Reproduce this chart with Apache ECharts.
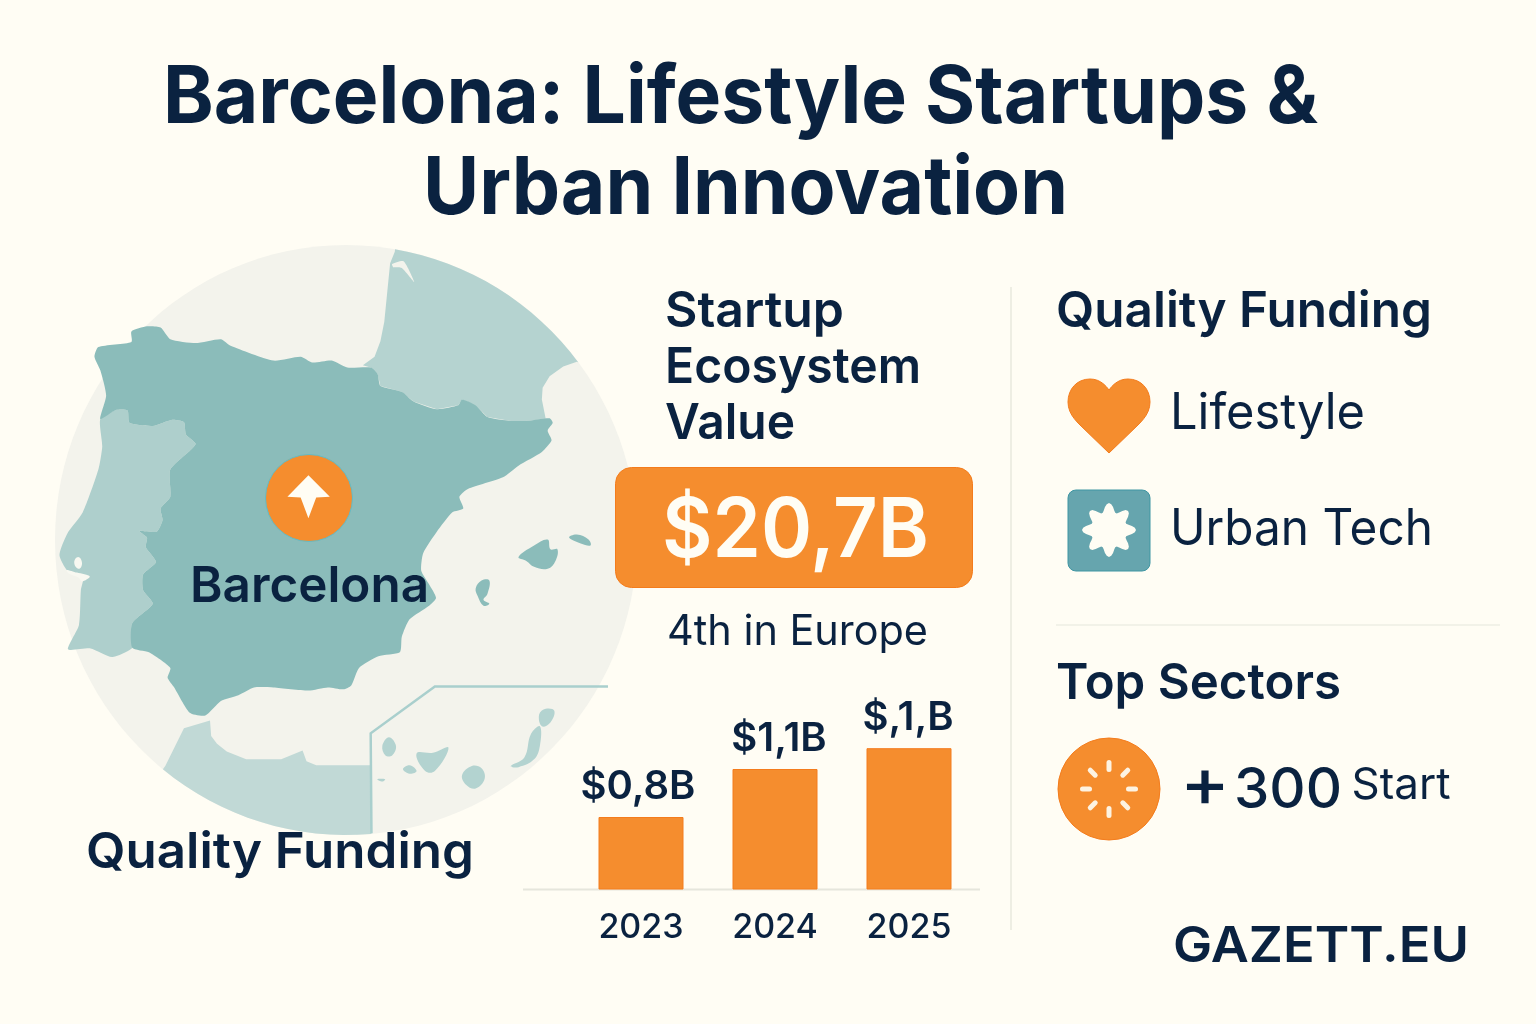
<!DOCTYPE html>
<html>
<head>
<meta charset="utf-8">
<title>Barcelona: Lifestyle Startups & Urban Innovation</title>
<script src="https://cdn.jsdelivr.net/npm/echarts@6/dist/echarts.min.js"></script>
<style>
  html, body { margin: 0; padding: 0; background: #fffdf4; }
  #chart { width: 1536px; height: 1024px; }
</style>
</head>
<body>
<div id="chart"></div>
<script>
// chart values
const years = ['2023', '2024', '2025']
const funding = [0.8, 1.1, 1.23]
const fundingLabels = ['$0,8B', '$1,1B', '$,1,B']
const labelNudge = [-3, 4, -1]

const titleLines = ['Barcelona: Lifestyle Startups &', 'Urban Innovation']
const valueLines = ['Startup', 'Ecosystem', 'Value']

const INK = '#0a2240'
const ORANGE = '#f58d2e'
const ORANGE_EDGE = '#f47c1c'
const FONT = 'Inter, "Noto Sans", sans-serif'

// map outlines (zoom coords, see toPage)
const spainOutline = [140,300,150,275,235,262,235,235,275,222,310,225,335,255,400,265,465,255,490,272,600,310,670,300,700,315,750,310,790,328,850,328,868,345,875,375,930,390,960,415,1020,435,1075,425,1085,410,1120,425,1150,455,1210,465,1250,465,1310,458,1318,470,1305,490,1315,515,1290,545,1230,580,1190,610,1100,640,1078,660,1088,690,1060,700,1020,750,985,805,980,850,1000,885,1018,920,1000,940,950,975,930,1020,925,1060,870,1070,820,1100,800,1145,780,1155,740,1150,690,1158,600,1150,550,1150,510,1170,465,1185,425,1222,385,1215,345,1150,328,1125,335,1100,280,1060,237,1048,237,985,290,935,265,900,265,860,298,828,272,790,275,765,255,748,300,750,315,720,310,690,335,660,335,590,400,525,375,500,370,468,340,462,290,478,230,470,225,438,195,437,155,460,170,400,155,335]
const portugalOutline = [155,460,195,437,225,438,230,470,290,478,340,462,370,468,375,500,400,525,335,590,335,660,310,690,315,720,300,750,255,748,275,765,272,790,298,828,265,860,265,900,290,935,237,985,237,1048,185,1072,130,1050,72,1052,100,990,105,900,110,870,70,850,50,810,70,755,110,700,150,590,160,530]
const franceCoast = [1380,313,1345,325,1310,350,1292,380,1290,410,1300,460,1250,465,1210,465,1150,455,1120,425,1085,410,1075,425,1020,435,960,415,930,390,875,375,868,345,850,328,830,322,860,300,875,260,885,210,893,130,900,60,912,30]
const africaCoast = [852,1525,850,1350,710,1350,685,1340,675,1312,620,1335,530,1335,480,1315,455,1295,440,1275,437,1235,370,1255,322,1352]
const balearics = [
  [1230,815,1270,785,1305,770,1312,795,1330,795,1325,825,1305,845,1270,840,1250,825],
  [1360,765,1380,757,1410,770,1415,785,1390,780],
  [1120,895,1135,875,1155,875,1150,910,1140,925,1155,935,1140,940,1125,915]
]
const canaries = [
  [968,1320,1010,1318,1050,1305,1015,1365,990,1365],
  [1210,1352,1245,1330,1262,1270,1285,1250,1285,1300,1270,1335,1230,1355],
  [1283,1220,1300,1205,1322,1210,1312,1240,1290,1250],
  [1085,1375,1110,1352,1135,1358,1143,1385,1120,1410,1095,1400],
  [880,1300,897,1278,915,1300,905,1325,888,1325],
  [933,1360,950,1350,968,1365,950,1372],
  [867,1386,887,1386,880,1392]
]

const ZOOM = 1568 / 610
function toPage(arr) {
  const pts = []
  for (let i = 0; i < arr.length; i += 2) pts.push([40 + arr[i] / ZOOM, 240 + arr[i + 1] / ZOOM])
  return pts
}

// the globe is a touch taller than wide
const CX = 346, CY = 540, RX = 291, RY = 295
function rim(from, to, n) {
  const pts = []
  for (let i = 0; i <= n; i++) {
    const a = (from + (to - from) * i / n) * Math.PI / 180
    pts.push([CX + RX * Math.cos(a), CY + RY * Math.sin(a)])
  }
  return pts
}

function shape(points, fill, smooth) {
  return { type: 'polygon', shape: { points, smooth: smooth == null ? 0.2 : smooth }, style: { fill } }
}

const measure = document.createElement('canvas').getContext('2d')
// width = the width the text takes in the picture, squeezed or stretched to it
function label(text, x, y, font, width, extra) {
  const fontStr = font + ' ' + FONT
  measure.font = fontStr
  return {
    type: 'text', z: 10, x, y,
    scaleX: width / measure.measureText(text).width,
    style: Object.assign({ text, x: 0, y: 0, fill: INK, font: fontStr, align: 'left', verticalAlign: 'middle' }, extra || {})
  }
}

const graphics = []

// globe
graphics.push({ type: 'ellipse', shape: { cx: CX, cy: CY, rx: RX, ry: RY }, style: { fill: '#f3f3ec' } })
graphics.push(shape(toPage(franceCoast).concat(rim(-80.3, -37, 16)), '#b5d3d0', 0))
graphics.push(shape(toPage(africaCoast).concat(rim(129, 85, 16)), '#c1d9d6', 0))
graphics.push(shape(toPage(portugalOutline), '#aecfcc'))
graphics.push(shape(toPage(spainOutline), '#8bbcba'))
balearics.forEach(b => graphics.push(shape(toPage(b), '#8bbcba', 0.4)))
canaries.forEach(c => graphics.push(shape(toPage(c), '#b3d3d0', 0.4)))
// Tagus estuary and Arcachon notch
graphics.push(shape(toPage([88,830,98,815,108,830,100,845]), '#f8f8f1', 0.5))
graphics.push(shape(toPage([68,848,95,855,128,865,108,878,100,868,75,858]), '#f8f8f1', 0.3))
graphics.push(shape(toPage([905,62,935,55,962,108,930,72,908,70]), '#f3f3ec', 0.2))
// Canary inset frame
graphics.push({
  type: 'polyline',
  shape: { points: toPage([852,1525,850,1268,1015,1148,1460,1148]) },
  style: { stroke: '#a9cfcd', lineWidth: 2.5, fill: 'none' }
})
// pin
graphics.push({ type: 'circle', shape: { cx: 309, cy: 498, r: 43.5 }, style: { fill: ORANGE, stroke: '#62bcc8', lineWidth: 1 } })
graphics.push(shape(toPage([690,605,745,660,710,662,690,715,670,662,636,660]), '#fffdf4', 0))

// title
graphics.push(label(titleLines[0], 163, 99, '700 80px', 1155))
graphics.push(label(titleLines[1], 423, 190, '700 80px', 645))

// map captions
graphics.push(label('Barcelona', 190, 587, '600 50px', 239))
graphics.push(label('Quality Funding', 86, 853, '600 50px', 388))

// middle column
valueLines.forEach((t, i) => graphics.push(label(t, 665, 312 + i * 56, '600 50px', [179, 256, 130][i])))
graphics.push({
  type: 'rect', shape: { x: 615.5, y: 467.5, width: 357, height: 120, r: 16 },
  style: { fill: ORANGE, stroke: ORANGE_EDGE, lineWidth: 1 }
})
graphics.push(label('$20,7B', 662, 532, '600 82px', 267, { fill: '#fffdf4' }))
graphics.push(label('4th in Europe', 667, 632, '400 42px', 261))
graphics.push({ type: 'line', shape: { x1: 523, y1: 889.5, x2: 980, y2: 889.5 }, style: { stroke: '#e6e6dc', lineWidth: 2 } })

// dividers
graphics.push({ type: 'line', shape: { x1: 1011, y1: 287, x2: 1011, y2: 930 }, style: { stroke: '#eeeee3', lineWidth: 2 } })
graphics.push({ type: 'line', shape: { x1: 1056, y1: 625, x2: 1500, y2: 625 }, style: { stroke: '#f2f2e8', lineWidth: 2 } })

// right column
graphics.push(label('Quality Funding', 1056, 312, '600 50px', 376))

// heart, sampled from its two lobes
function bez(p0, p1, p2, p3, n) {
  const pts = []
  for (let i = 0; i < n; i++) {
    const t = i / n, u = 1 - t
    pts.push([
      u*u*u*p0[0] + 3*u*u*t*p1[0] + 3*u*t*t*p2[0] + t*t*t*p3[0],
      u*u*u*p0[1] + 3*u*u*t*p1[1] + 3*u*t*t*p2[1] + t*t*t*p3[1]
    ])
  }
  return pts
}
const heartLeft = [].concat(
  bez([1109,390],[1104,383],[1098,379],[1090,379],6),
  bez([1090,379],[1077,379],[1068,389],[1068,402],8),
  bez([1068,402],[1068,412],[1074,419],[1080,425],6)
)
const heartRight = heartLeft.map(p => [2218 - p[0], p[1]]).reverse()
graphics.push({
  type: 'polygon', shape: { points: heartLeft.concat([[1080,425],[1109,453],[1138,425]], heartRight) },
  style: { fill: ORANGE, stroke: ORANGE_EDGE, lineWidth: 1 }
})
graphics.push(label('Lifestyle', 1170, 414, '400 50px', 195))
graphics.push({
  type: 'rect', shape: { x: 1068, y: 490, width: 82, height: 81, r: 8 },
  style: { fill: '#66a5ae', stroke: '#3f96a3', lineWidth: 1 }
})
// gear icon, a wavy ring with 8 lobes
const gear = []
for (let i = 0; i < 72; i++) {
  const a = (i / 72) * Math.PI * 2
  const r = 22.5 + 4.5 * Math.cos(8 * a)
  gear.push([1109 + r * Math.cos(a), 530 + r * Math.sin(a)])
}
graphics.push(shape(gear, '#fffdf4', 0))
graphics.push(label('Urban Tech', 1170, 530, '400 50px', 263))

graphics.push(label('Top Sectors', 1056, 684, '600 50px', 285))
graphics.push({ type: 'circle', shape: { cx: 1109, cy: 789, r: 51 }, style: { fill: ORANGE, stroke: ORANGE_EDGE, lineWidth: 1 } })
for (let i = 0; i < 8; i++) {
  const a = i * Math.PI / 4
  graphics.push({
    type: 'line',
    shape: { x1: 1109 + 19.5 * Math.cos(a), y1: 789 + 19.5 * Math.sin(a), x2: 1109 + 26.5 * Math.cos(a), y2: 789 + 26.5 * Math.sin(a) },
    style: { stroke: '#fdf3e2', lineWidth: 5, lineCap: 'round' }
  })
}
graphics.push(label('+', 1180, 786, '500 68px', 50))
graphics.push(label('300', 1234, 791, '500 56px', 108))
graphics.push(label('Start', 1351.5, 786, '400 44px', 99))
graphics.push(label('GAZETT.EU', 1173, 947, '600 50px', 296))

const chart = echarts.init(document.getElementById('chart'), null, { renderer: 'canvas' })
chart.setOption({
  backgroundColor: '#fffdf4',
  animation: false,
  textStyle: { fontFamily: FONT },
  grid: { left: 574, width: 402, top: 689, height: 200 },
  xAxis: {
    type: 'category',
    data: years,
    axisLine: { show: false },
    axisTick: { show: false },
    axisLabel: { color: INK, fontSize: 34, fontWeight: 500, fontFamily: FONT, margin: 22 }
  },
  yAxis: { type: 'value', min: 0.35, max: 1.6, show: false },
  series: [{
    type: 'bar',
    data: funding.map((value, i) => ({ value, label: { offset: [labelNudge[i], 0] } })),
    barWidth: 85,
    itemStyle: { color: ORANGE, borderColor: ORANGE_EDGE, borderWidth: 1 },
    label: {
      show: true,
      position: 'top',
      distance: 10,
      color: INK,
      fontSize: 40,
      fontWeight: 600,
      fontFamily: FONT,
      formatter: p => fundingLabels[p.dataIndex]
    }
  }],
  graphic: { elements: graphics }
})
</script>
</body>
</html>
